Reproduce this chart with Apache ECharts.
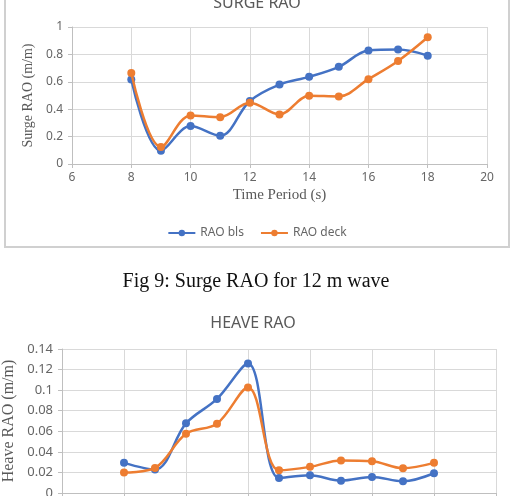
<!DOCTYPE html>
<html>
<head>
<meta charset="utf-8">
<script src="https://cdn.jsdelivr.net/npm/echarts@6/dist/echarts.min.js"></script>
<style>
html,body{margin:0;padding:0;background:#fff;}
#c{width:514px;height:496px;}
</style>
</head>
<body>
<div id="c"></div>
<script>
// ---- data ----
var periods = [8, 9, 10, 11, 12, 13, 14, 15, 16, 17, 18];
var surgeBls  = [0.617, 0.097, 0.277, 0.206, 0.46, 0.58, 0.636, 0.709, 0.828, 0.835, 0.791];
var surgeDeck = [0.665, 0.124, 0.354, 0.342, 0.447, 0.362, 0.498, 0.493, 0.619, 0.752, 0.925];
var heaveBls  = [0.0293, 0.0228, 0.0677, 0.0915, 0.126, 0.0147, 0.0173, 0.0120, 0.0156, 0.0114, 0.0192];
var heaveDeck = [0.0199, 0.0244, 0.0576, 0.0674, 0.1026, 0.0221, 0.0254, 0.0316, 0.0309, 0.0241, 0.0293];
var seriesNames = ['RAO bls', 'RAO deck'];
var surgeTitle = 'SURGE RAO';
var heaveTitle = 'HEAVE RAO';
var caption = 'Fig 9: Surge RAO for 12 m wave';

function pairs(xs, ys) { return xs.map(function (x, i) { return [x, ys[i]]; }); }

var BLUE = '#4472C4', ORANGE = '#ED7D31';
var GRID = '#d9d9d9', LABEL = '#666666';
var SANS = '"Noto Sans", "Liberation Sans", sans-serif';
var SERIF = '"Liberation Serif", "DejaVu Serif", serif';

function lineSeries(name, color, data, xi) {
  return {
    name: name, type: 'line', xAxisIndex: xi, yAxisIndex: xi,
    data: data, smooth: 0.35, symbol: 'circle', symbolSize: 8,
    lineStyle: { color: color, width: 2.5 },
    itemStyle: { color: color }, z: name === seriesNames[1] ? 3 : 2
  };
}

function xAx(gi, name, nameGap, fs) {
  return {
    type: 'value', gridIndex: gi, min: 6, max: 20, interval: 2,
    name: name, nameLocation: 'middle', nameGap: nameGap,
    nameTextStyle: { fontFamily: SERIF, fontSize: 15, color: '#595959' },
    axisLine: { show: true, lineStyle: { color: '#bfbfbf', width: 1 } },
    axisTick: { show: true, length: 4, lineStyle: { color: '#bfbfbf' } },
    axisLabel: { color: LABEL, fontFamily: SANS, fontSize: fs, margin: 8 },
    splitLine: { show: true, lineStyle: { color: GRID, width: 1 } }
  };
}
function yAx(gi, max, interval, name, nameGap, nfs, fs) {
  return {
    type: 'value', gridIndex: gi, min: 0, max: max, interval: interval,
    name: name, nameLocation: 'middle', nameGap: nameGap, nameRotate: 90,
    nameTextStyle: { fontFamily: SERIF, fontSize: nfs, color: '#595959' },
    axisLine: { show: true, lineStyle: { color: '#bfbfbf', width: 1 } },
    axisTick: { show: true, length: 4, lineStyle: { color: '#bfbfbf' } },
    axisLabel: { color: LABEL, fontFamily: SANS, fontSize: fs, margin: 9 },
    splitLine: { show: true, lineStyle: { color: GRID, width: 1 } }
  };
}

var chart = echarts.init(document.getElementById('c'), null, { renderer: 'canvas' });
chart.setOption({
  animation: false,
  backgroundColor: '#ffffff',
  graphic: [
    { type: 'rect', shape: { x: 5, y: -20, width: 504, height: 267 },
      style: { fill: 'none', stroke: '#d0d0d0', lineWidth: 2 }, z: 0, silent: true },
    { type: 'text', x: 257, y: 3, z: 10,
      style: { text: surgeTitle, textAlign: 'center', textVerticalAlign: 'middle',
               font: '16px "Noto Sans", sans-serif', fill: '#595959' } },
    { type: 'text', x: 256, y: 282, z: 10,
      style: { text: caption, textAlign: 'center', textVerticalAlign: 'middle',
               font: '20px "Liberation Serif", serif', fill: '#111111' } },
    { type: 'text', x: 253, y: 323, z: 10,
      style: { text: heaveTitle, textAlign: 'center', textVerticalAlign: 'middle',
               font: '16px "Noto Sans", sans-serif', fill: '#595959' } }
  ],
  legend: {
    data: seriesNames, left: 'center', top: 222,
    itemWidth: 27, itemHeight: 8, itemGap: 16,
    textStyle: { color: LABEL, fontFamily: SANS, fontSize: 12 }
  },
  grid: [
    { left: 72, right: 27, top: 27, height: 137, containLabel: false, outerBoundsMode: 'none' },
    { left: 62, right: 18, top: 349, height: 144, containLabel: false, outerBoundsMode: 'none' }
  ],
  xAxis: [xAx(0, 'Time Period (s)', 24, 12), xAx(1, '', 24, 13)],
  yAxis: [yAx(0, 1, 0.2, 'Surge RAO (m/m)', 31, 14, 12),
          yAx(1, 0.14, 0.02, 'Heave RAO (m/m)', 33, 16, 13)],
  series: [
    lineSeries(seriesNames[0], BLUE, pairs(periods, surgeBls), 0),
    lineSeries(seriesNames[1], ORANGE, pairs(periods, surgeDeck), 0),
    lineSeries(seriesNames[0], BLUE, pairs(periods, heaveBls), 1),
    lineSeries(seriesNames[1], ORANGE, pairs(periods, heaveDeck), 1)
  ]
});
</script>
</body>
</html>
